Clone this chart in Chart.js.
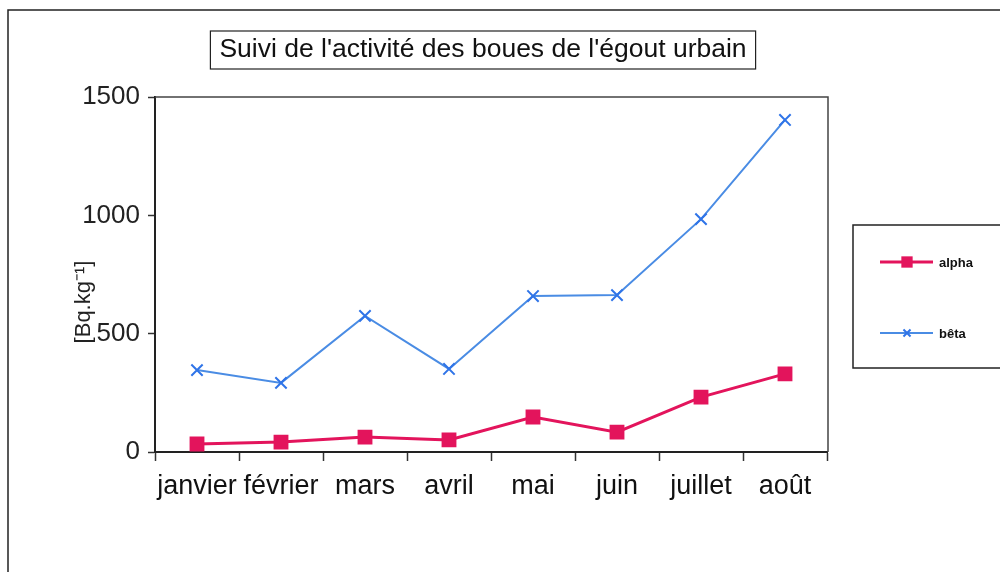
<!DOCTYPE html>
<html>
<head>
<meta charset="utf-8">
<script src="https://cdn.jsdelivr.net/npm/chart.js@4"></script>
<style>
  html, body { margin: 0; padding: 0; background: #fff; }
  #wrap { width: 1000px; height: 572px; position: relative; }
</style>
</head>
<body>
<div id="wrap"><canvas id="boues" width="1000" height="572"></canvas></div>
<script>
// données
const mois = ['janvier', 'février', 'mars', 'avril', 'mai', 'juin', 'juillet', 'août'];
const alpha = [34, 42, 63, 51, 148, 84, 232, 330];
const beta = [346, 292, 575, 351, 659, 663, 984, 1403];
const yTicks = [0, 500, 1000, 1500];

const titre = "Suivi de l'activité des boues de l'égout urbain";
const uniteY = '[Bq.kg⁻¹]';

const police = "'Liberation Sans', Arial, sans-serif";

// cadre, titre, légende dessinés à la main
const decor = {
  id: 'decor',
  afterDraw(chart) {
    const c = chart.ctx;
    const a = chart.chartArea;
    c.save();
    // cadre extérieur (haut + gauche)
    c.strokeStyle = '#222';
    c.lineWidth = 1.5;
    c.beginPath();
    c.moveTo(8, 572); c.lineTo(8, 10); c.lineTo(1000, 10);
    c.stroke();

    // bord haut et droit de la zone de tracé
    c.strokeStyle = '#444';
    c.lineWidth = 1.5;
    c.beginPath();
    c.moveTo(a.left, a.top); c.lineTo(a.right + 1, a.top); c.lineTo(a.right + 1, a.bottom);
    c.stroke();

    // titre encadré
    c.font = '26.5px ' + police;
    c.fillStyle = '#111';
    c.textAlign = 'center';
    c.textBaseline = 'middle';
    const tw = c.measureText(titre).width;
    const tx = 483, ty = 50;
    c.fillText(titre, tx, ty);
    c.strokeStyle = '#222';
    c.lineWidth = 1.2;
    c.strokeRect(tx - tw / 2 - 9, 31, tw + 18, 38);

    // titre de l'axe y
    c.save();
    c.translate(84, 302);
    c.rotate(-Math.PI / 2);
    c.font = '22px ' + police;
    c.fillStyle = '#222';
    c.fillText(uniteY, 0, 0);
    c.restore();

    // légende
    c.strokeStyle = '#222';
    c.lineWidth = 1.5;
    c.strokeRect(853, 225, 160, 143);
    const rows = [262, 333];
    chart.data.datasets.forEach((ds, i) => {
      const y = rows[i];
      c.strokeStyle = ds.borderColor;
      c.lineWidth = ds.borderWidth;
      c.beginPath();
      c.moveTo(880, y); c.lineTo(933, y);
      c.stroke();
      c.fillStyle = ds.pointBackgroundColor || ds.borderColor;
      c.strokeStyle = ds.pointBorderColor;
      c.lineWidth = ds.pointBorderWidth;
      Chart.helpers.drawPoint(c, {
        pointStyle: ds.pointStyle,
        radius: ds.pointStyle === 'rect' ? 8 : 5,
        borderWidth: ds.pointBorderWidth
      }, 907, y);
      c.fillStyle = '#111';
      c.font = 'bold 13px ' + police;
      c.textAlign = 'left';
      c.fillText(ds.label, 939, y + 1);
    });
    c.restore();
  }
};

Chart.defaults.font.family = police;

const ctx = document.getElementById('boues').getContext('2d');
const chart = new Chart(ctx, {
  type: 'line',
  data: {
    labels: mois,
    datasets: [
      {
        label: 'alpha',
        data: alpha,
        borderColor: '#e3145c',
        backgroundColor: '#e3145c',
        borderWidth: 3,
        pointStyle: 'rect',
        pointRadius: 10.5,
        pointBorderWidth: 0,
        pointBackgroundColor: '#e3145c',
        pointBorderColor: '#e3145c',
      },
      {
        label: 'bêta',
        data: beta,
        borderColor: '#4a8ce4',
        backgroundColor: '#4a8ce4',
        borderWidth: 2,
        pointStyle: 'crossRot',
        pointRadius: 8,
        pointBorderWidth: 2,
        pointBorderColor: '#2f74e8',
      },
    ],
  },
  options: {
    responsive: false,
    animation: false,
    devicePixelRatio: 1,
    layout: { padding: { left: 0, right: 173, top: 97, bottom: 0 } },
    plugins: {
      legend: { display: false },
      title: { display: false },
      tooltip: { enabled: false },
    },
    scales: {
      x: {
        offset: true,
        grid: {
          offset: true,
          drawOnChartArea: false,
          tickLength: 9,
          tickColor: '#333',
          tickWidth: 1.5,
        },
        border: { display: true, color: '#222', width: 2 },
        ticks: {
          color: '#111',
          font: { size: 27 },
          padding: 9,
          maxRotation: 0,
          autoSkip: false,
        },
        afterFit(s) { s.height = 120; },
      },
      y: {
        min: 0,
        max: 1500,
        afterBuildTicks(s) { s.ticks = yTicks.map(v => ({ value: v })); },
        grid: {
          drawOnChartArea: false,
          tickLength: 7,
          tickColor: '#333',
          tickWidth: 1.5,
        },
        border: { display: true, color: '#222', width: 2 },
        ticks: {
          color: '#222',
          font: { size: 26 },
          padding: 8,
          callback: v => String(v),
        },
        afterFit(s) { s.width = 155; },
      },
    },
  },
  plugins: [decor],
});
</script>
</body>
</html>
